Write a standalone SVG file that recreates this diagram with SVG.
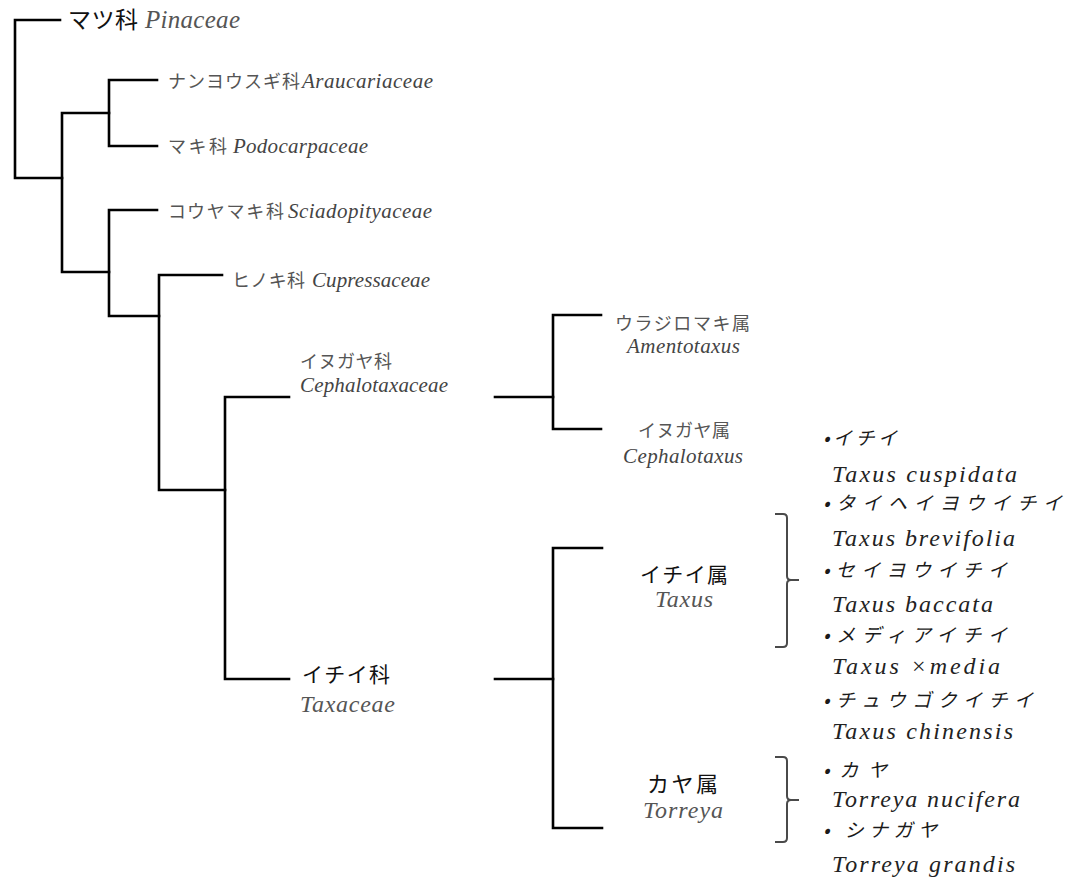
<svg xmlns="http://www.w3.org/2000/svg" width="1067" height="881" viewBox="0 0 1067 881">
<style>
.ln{fill:none;stroke:#000;stroke-width:2.6;stroke-linecap:square;stroke-linejoin:miter}
.br{fill:none;stroke:#4a4a4a;stroke-width:2}
.jg{font-family:"Noto Sans CJK JP","Noto Sans",sans-serif;font-size:18px;fill:#555}
.lg{font-family:"Liberation Serif",serif;font-style:italic;font-size:21px;fill:#444}
.jb{font-family:"Noto Sans CJK JP","Noto Sans",sans-serif;font-size:21px;fill:#111}
.lb{font-family:"Liberation Serif",serif;font-style:italic;font-size:24px;fill:#555}
.jr{font-family:"Noto Sans CJK JP","Noto Sans",sans-serif;font-style:italic;font-size:19px;fill:#1a1a1a}
.lr{font-family:"Liberation Serif",serif;font-style:italic;font-size:24px;fill:#222}
</style>
<rect width="1067" height="881" fill="#fff"/>
<g id="connectors">
<path class="ln" d="M60,20 H15 V178 H62"/>
<path class="ln" d="M109,113 H62 V272 H109"/>
<path class="ln" d="M157,80 H109 V146 H157"/>
<path class="ln" d="M157,210 H109 V316 H159"/>
<path class="ln" d="M222,275 H159 V490 H225"/>
<path class="ln" d="M289,397 H225 V679 H289"/>
<path class="ln" d="M495,397 H553"/>
<path class="ln" d="M601,315 H553 V429 H601"/>
<path class="ln" d="M495,679 H553"/>
<path class="ln" d="M602,548 H553 V828 H602"/>
<path class="br" d="M775,514 H783 Q787,514 787,518 V576 Q787,580 791,580 Q787,580 787,584 V643 Q787,647 783,647 H775 M791,580 H799"/>
<path class="br" d="M775,757 H783 Q787,757 787,761 V796 Q787,800 791,800 Q787,800 787,804 V838 Q787,842 783,842 H775 M791,800 H799"/>
</g>
<g id="pinaceae">
<text x="68" y="28" class="jb" style="font-size:23px" textLength="70" lengthAdjust="spacing">マツ科</text>
<text x="145" y="28" class="lb" style="font-size:25px" textLength="95" lengthAdjust="spacing">Pinaceae</text>
</g>
<g id="araucariaceae">
<text x="168" y="88" class="jg" textLength="132" lengthAdjust="spacing">ナンヨウスギ科</text>
<text x="302" y="88" class="lg" textLength="131" lengthAdjust="spacing">Araucariaceae</text>
</g>
<g id="podocarpaceae">
<text x="168" y="153" class="jg" textLength="59" lengthAdjust="spacing">マキ科</text>
<text x="233" y="153" class="lg" textLength="135" lengthAdjust="spacing">Podocarpaceae</text>
</g>
<g id="sciadopityaceae">
<text x="168" y="218" class="jg" textLength="116" lengthAdjust="spacing">コウヤマキ科</text>
<text x="288" y="218" class="lg" textLength="144" lengthAdjust="spacing">Sciadopityaceae</text>
</g>
<g id="cupressaceae">
<text x="232" y="287" class="jg" textLength="73" lengthAdjust="spacing">ヒノキ科</text>
<text x="312" y="287" class="lg" textLength="118" lengthAdjust="spacing">Cupressaceae</text>
</g>
<g id="cephalotaxaceae">
<text x="300" y="368" class="jg" textLength="92" lengthAdjust="spacing">イヌガヤ科</text>
<text x="300" y="392" class="lg" textLength="148" lengthAdjust="spacing">Cephalotaxaceae</text>
</g>
<g id="amentotaxus">
<text x="615" y="330" class="jg" textLength="135" lengthAdjust="spacing">ウラジロマキ属</text>
<text x="627" y="353" class="lg" textLength="113" lengthAdjust="spacing">Amentotaxus</text>
</g>
<g id="cephalotaxus">
<text x="638" y="437" class="jg" textLength="92" lengthAdjust="spacing">イヌガヤ属</text>
<text x="623" y="463" class="lg" textLength="120" lengthAdjust="spacing">Cephalotaxus</text>
</g>
<g id="taxaceae">
<text x="302" y="682" class="jb" textLength="88" lengthAdjust="spacing">イチイ科</text>
<text x="300" y="712" class="lb" textLength="95" lengthAdjust="spacing">Taxaceae</text>
</g>
<g id="taxus">
<text x="640" y="582" class="jb" textLength="88" lengthAdjust="spacing">イチイ属</text>
<text x="655" y="607" class="lb" textLength="58" lengthAdjust="spacing">Taxus</text>
</g>
<g id="torreya">
<text x="647" y="792" class="jb" style="font-size:22px" textLength="71" lengthAdjust="spacing">カヤ属</text>
<text x="643" y="818" class="lb" textLength="80" lengthAdjust="spacing">Torreya</text>
</g>
<g id="species">
<text x="823" y="445" class="jr" textLength="74" lengthAdjust="spacing">•イチイ</text>
<text x="832" y="482" class="lr" textLength="185" lengthAdjust="spacing">Taxus cuspidata</text>
<text x="823" y="510" class="jr" textLength="239" lengthAdjust="spacing">•タイヘイヨウイチイ</text>
<text x="832" y="546" class="lr" textLength="183" lengthAdjust="spacing">Taxus brevifolia</text>
<text x="823" y="577" class="jr" textLength="184" lengthAdjust="spacing">•セイヨウイチイ</text>
<text x="832" y="612" class="lr" textLength="161" lengthAdjust="spacing">Taxus baccata</text>
<text x="823" y="642" class="jr" textLength="184" lengthAdjust="spacing">•メディアイチイ</text>
<text x="832" y="674" class="lr" textLength="168" lengthAdjust="spacing">Taxus ×media</text>
<text x="823" y="707" class="jr" textLength="210" lengthAdjust="spacing">•チュウゴクイチイ</text>
<text x="832" y="739" class="lr" textLength="181" lengthAdjust="spacing">Taxus chinensis</text>
<text x="823" y="777" class="jr" textLength="64" lengthAdjust="spacing">•カヤ</text>
<text x="832" y="807" class="lr" textLength="188" lengthAdjust="spacing">Torreya nucifera</text>
<text x="823" y="837" class="jr" textLength="114" lengthAdjust="spacing">• シナガヤ</text>
<text x="832" y="872" class="lr" textLength="183" lengthAdjust="spacing">Torreya grandis</text>
</g>
</svg>
